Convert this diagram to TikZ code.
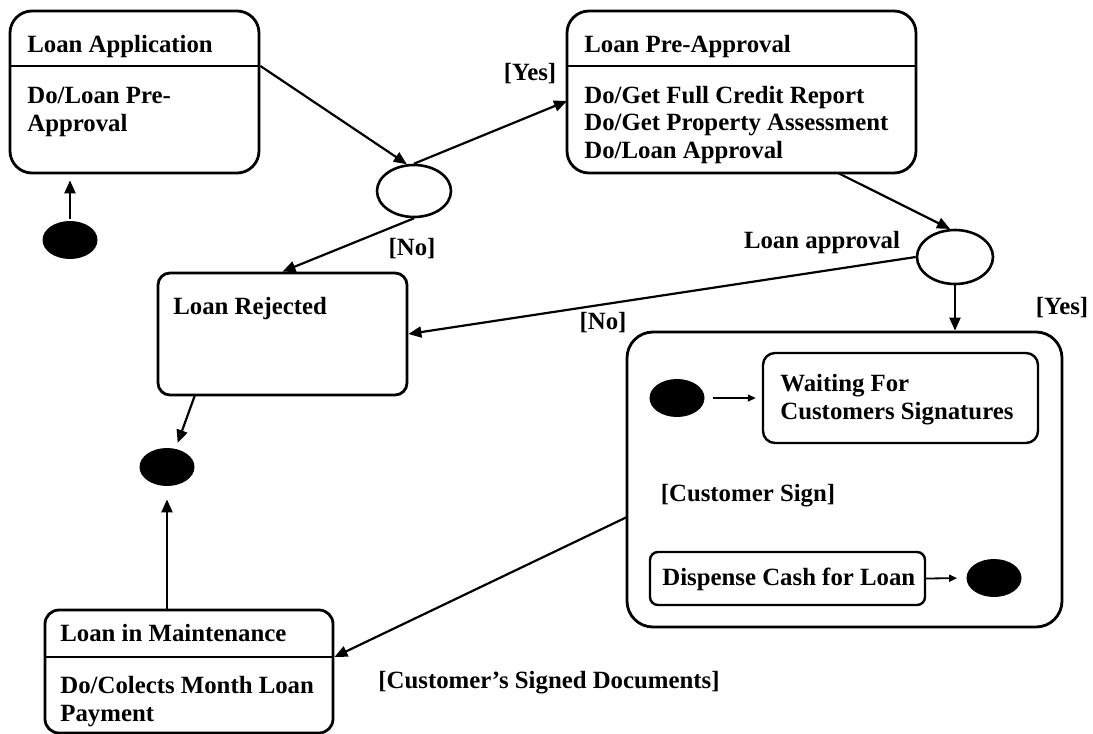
\documentclass[tikz,border=0pt]{standalone}
\usepackage{fontspec}
\setmainfont{Liberation Serif}
\usepackage{tikz}
\usetikzlibrary{arrows.meta, shapes.geometric, fit}

\begin{document}
\begin{tikzpicture}[
    x=0.5pt, y=-0.5pt,
    state/.style={draw, line width=1.4pt, inner sep=0pt},
    choice/.style={draw, ellipse, line width=1.3pt, inner sep=0pt,
        minimum width=37pt, minimum height=26pt},
    blob/.style={fill=black, ellipse, inner sep=0pt,
        minimum width=27.5pt, minimum height=19pt},
    label/.style={font=\fontsize{12.4}{13.75}\selectfont\bfseries, inner sep=0pt, align=left},
    flow/.style={line width=1.1pt, -{Triangle[length=6.5pt, width=5.5pt]}},
    minor flow/.style={line width=0.9pt, -{Triangle[length=4pt, width=3.5pt]}}
]
\useasboundingbox (0,0) rectangle (1093,734);

% ================================================================
% Upper row: application and pre-approval
% ================================================================

\node[state, rounded corners=11pt, fit={(10,11) (259,173)}] (app) {};
\coordinate (app div) at (10,66);
\draw[line width=1.4pt] (app.west |- app div) -- (app.east |- app div);
\node[label, anchor=base west] (app title) at (27,52) {Loan Application};
\node[label, anchor=base west] (app body) at (27,131) {Do/Loan Pre-\\Approval};

\node[blob] (start) at (70,240) {};
\draw[flow, shorten <=1pt, shorten >=3pt] (start) -- (app.south -| start);

\node[choice] (dec1) at (414,191) {};

\node[state, rounded corners=11pt, fit={(567,11) (916,173)}] (pre) {};
\coordinate (pre div) at (567,66);
\draw[line width=1.4pt] (pre.west |- pre div) -- (pre.east |- pre div);
\node[label, anchor=base west] (pre title) at (584,52) {Loan Pre-Approval};
\node[label, anchor=base west] (pre body) at (584,158)
    {Do/Get Full Credit Report\\Do/Get Property Assessment\\Do/Loan Approval};

\coordinate (yes in) at (567,101);
\draw[flow] (app.east |- app div) -- (dec1.105);
\draw[flow] (dec1.north) -- (yes in);
\node[label] (yes1) at (530,74) {[Yes]};

% ================================================================
% Middle: rejection and second choice
% ================================================================

\node[state, rounded corners=6pt, fit={(158,273) (407,395)}] (rej) {};
\node[label, anchor=base west] (rej title) at (173,314) {Loan Rejected};

\draw[flow] (dec1.south) -- (rej.north);
\node[label] (no1) at (412,249) {[No]};

\node[choice, minimum width=38pt, minimum height=27pt] (dec2) at (955,257) {};
\coordinate (pre out) at (838,173);
\draw[flow] (pre out) -- (dec2.100);
\node[label] (ask) at (822,243) {Loan approval};

\draw[flow] (dec2.west) -- (rej.east);
\node[label] (no2) at (603,323) {[No]};

\node[blob] (stop) at (167,467) {};
\coordinate (rej out) at (195,395);
\draw[flow, shorten >=3pt] (rej out) -- (stop.65);

% ================================================================
% Composite state: signing and cash
% ================================================================

\node[state, rounded corners=13pt, fit={(627,332) (1062,627)}] (deal) {};
\draw[flow] (dec2.south) -- (dec2.south |- deal.north);
\node[label] (yes2) at (1062,308) {[Yes]};

\node[blob] (deal start) at (677,398) {};
\node[state, line width=1.2pt, rounded corners=6pt, fit={(763,353) (1038,443)}] (wait) {};
\node[label, anchor=base west] (wait title) at (780,419) {Waiting For\\Customers Signatures};
\draw[minor flow, shorten <=4pt, shorten >=3pt] (deal start.east) -- (wait.west |- deal start);

\node[label] (sign) at (748,496) {[Customer Sign]};

\node[state, line width=1.2pt, rounded corners=4pt, fit={(650,552) (925,605)}] (cash) {};
\node[label, anchor=base west] (cash title) at (662,585) {Dispense Cash for Loan};
\node[blob] (deal stop) at (994,578) {};
\draw[minor flow, shorten >=4.5pt] (cash.east) -- (deal stop.west);

% ================================================================
% Lower left: maintenance
% ================================================================

\node[state, rounded corners=7pt, fit={(45,610) (333,733)}] (keep) {};
\coordinate (keep div) at (45,657);
\draw[line width=1.4pt] (keep.west |- keep div) -- (keep.east |- keep div);
\node[label, anchor=base west] (keep title) at (60,641) {Loan in Maintenance};
\node[label, anchor=base west] (keep body) at (60,721) {Do/Colects Month Loan\\Payment};

\coordinate (deal out) at (627,517);
\draw[flow] (deal out) -- (keep.east |- keep div);
\node[label] (signed) at (549,683) {[Customer’s Signed Documents]};

\draw[flow, shorten >=6.5pt] (stop.south |- keep.north) -- (stop.south);

\end{tikzpicture}
\end{document}
